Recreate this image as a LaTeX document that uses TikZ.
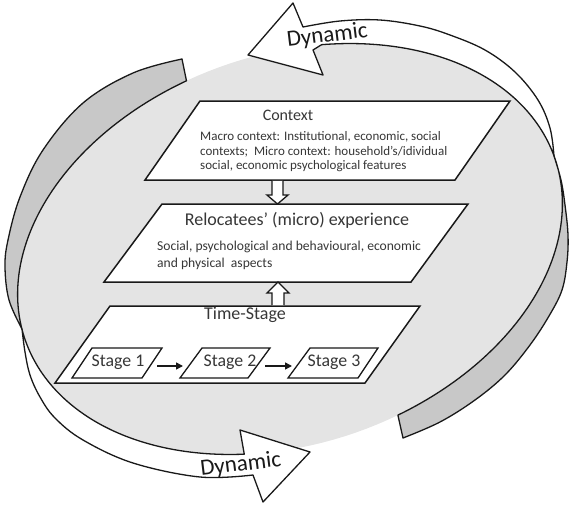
\documentclass[tikz,border=0pt]{standalone}
\usepackage{fontspec}
\setmainfont{Carlito}
\usetikzlibrary{arrows.meta,calc}
\definecolor{bgfill}{RGB}{228,228,228}
\definecolor{bandgrey}{RGB}{200,200,200}
\definecolor{txt}{RGB}{55,55,55}
\definecolor{edge}{RGB}{25,25,25}
\begin{document}
\begin{tikzpicture}[x=1pt,y=-1pt,
  declare function={ex(\t)=290+265.06*cos(\t)+62.84*sin(\t); ey(\t)=249-90.24*cos(\t)+184.6*sin(\t);},
  bandline/.style={draw=edge, line width=1.3pt, line join=round},
  greyband/.style={bandline, fill=bandgrey},
  whiteband/.style={bandline, fill=white},
  pbox/.style={draw=edge, line width=1.5pt, fill=white, line join=miter},
  sbox/.style={draw=edge, line width=1.3pt, fill=white, line join=miter},
  hollowarr/.style={draw=edge, line width=1.3pt, fill=white, line join=miter},
  ttl/.style={text=txt, inner sep=0},
  bdy/.style={text=txt, inner sep=0, anchor=north west, align=left},
  dyn/.style={text=black!90, inner sep=0, anchor=base, rotate=7, font=\fontsize{23}{27}\selectfont},
  stagearrow/.style={draw=edge, line width=1.5pt, -{Triangle[length=7pt,width=7pt]}},
]
\useasboundingbox (0,0) rectangle (571,504);

% grey background ellipse
\fill[bgfill] plot[domain=0:360, samples=150, variable=\t] ({ex(\t)},{ey(\t)}) -- cycle;

% left curved arrow: grey part
\filldraw[greyband] plot[smooth, tension=0.6] coordinates {(182,59) (133,73) (83,103) (43,150) (20,197) (8,240) (5,267) (9,300) (22,329)}
  -- plot[domain=183:261, samples=60, variable=\t] ({ex(\t)},{ey(\t)}) -- cycle;
% left curved arrow: white part with head
\filldraw[whiteband] plot[domain=0:70, samples=60, variable=\t] ({ex(183-\t)},{ey(183-\t)})
  -- (240,430) -- (310,452) -- (263,502) -- (253,475)
  -- plot[smooth, tension=0.6] coordinates {(253,475) (200,477) (133,463) (83,440) (55,418) (40,397) (30,375) (25,352) (22,329)} -- cycle;

% right curved arrow: white part with head
\filldraw[whiteband] (248,55) -- (293,3) -- (303,27)
  -- plot[smooth, tension=0.6] coordinates {(303,27) (340,21) (380,20) (420,26) (450,35) (485,50) (515,72) (538,100) (550,128) (554,156)}
  -- plot[domain=0:69, samples=60, variable=\t] ({ex(359-\t)},{ey(359-\t)})
  -- (313,50) -- (323,75) -- cycle;
% right curved arrow: grey part
\filldraw[greyband] plot[domain=-1:80, samples=60, variable=\t] ({ex(\t)},{ey(\t)})
  -- (403,438)
  -- plot[smooth, tension=0.6] coordinates {(403,438) (440,422) (475,400) (505,375) (530,345) (549,316) (562,290) (567,262) (568,235) (565,205) (561,180) (554,156)} -- cycle;

\node[dyn] (dyntop) at (328,42) {Dynamic};
\node[dyn] (dynbot) at (241.5,471) {Dynamic};

% Context box
\draw[pbox] (200,101) -- (510,101) -- (455,180) -- (145,180) -- cycle;
\node[ttl, font=\fontsize{16}{19}\selectfont] (ctxT) at (288,115) {Context};
\node[bdy, font=\fontsize{13}{14.5}\selectfont] (ctxB) at (200,131.5) {Macro context: Institutional, economic, social\\contexts;\ \ Micro context: household’s/idividual\\social, economic psychological features};

% Relocatees box
\draw[pbox] (162,204) -- (468,204) -- (411,282) -- (104,282) -- cycle;
\node[ttl, font=\fontsize{18}{21}\selectfont] (relT) at (297,220) {Relocatees’ (micro) experience};
\node[bdy, font=\fontsize{13.6}{17}\selectfont] (relB) at (157,241) {Social, psychological and behavioural, economic\\and physical\ \ aspects};

% Time-Stage box
\draw[pbox] (110,306) -- (420,306) -- (365,383) -- (55,383) -- cycle;
\node[ttl, font=\fontsize{18}{20}\selectfont] (tsT) at (245,315) {Time-Stage};

% Stage boxes
\draw[sbox] (92,348) -- (162,348) -- (142,378) -- (72,378) -- cycle;
\draw[sbox] (202,348) -- (270,348) -- (248,378) -- (180,378) -- cycle;
\draw[sbox] (310,348) -- (378,348) -- (358,378) -- (288,378) -- cycle;
\node[ttl, font=\fontsize{17.8}{20}\selectfont] (s1) at (118,362) {Stage 1};
\node[ttl, font=\fontsize{17.8}{20}\selectfont] (s2) at (230,362) {Stage 2};
\node[ttl, font=\fontsize{17.8}{20}\selectfont] (s3) at (334,362) {Stage 3};

\coordinate (s1e) at (157,366);
\coordinate (s2w) at (183,366);
\coordinate (s2e) at (265,366);
\coordinate (s3w) at (292,366);
\draw[stagearrow] (s1e) -- (s2w);
\draw[stagearrow] (s2e) -- (s3w);

% hollow arrows between the boxes
\coordinate (ctxS) at (277.5,180.8);
\coordinate (relN) at (277.5,204);
\coordinate (relS) at (278,282);
\coordinate (tsN) at (278,305.2);
\fill[white] (ctxS) ++(-5.5,0) -- ++(0,14.2) -- ++(-5,0) -- (relN) -- ++(10.5,-9) -- ++(-5,0) -- ++(0,-14.2) -- cycle;
\draw[hollowarr, fill=none] (ctxS) ++(-5.5,0) -- ++(0,14.2) -- ++(-5,0) -- (relN) -- ++(10.5,-9) -- ++(-5,0) -- ++(0,-14.2);
\fill[white] (tsN) ++(-6,0) -- ++(0,-12.2) -- ++(-5,0) -- (relS) -- ++(11,11) -- ++(-5,0) -- ++(0,12.2) -- cycle;
\draw[hollowarr, fill=none] (tsN) ++(-6,0) -- ++(0,-12.2) -- ++(-5,0) -- (relS) -- ++(11,11) -- ++(-5,0) -- ++(0,12.2);
\end{tikzpicture}
\end{document}
